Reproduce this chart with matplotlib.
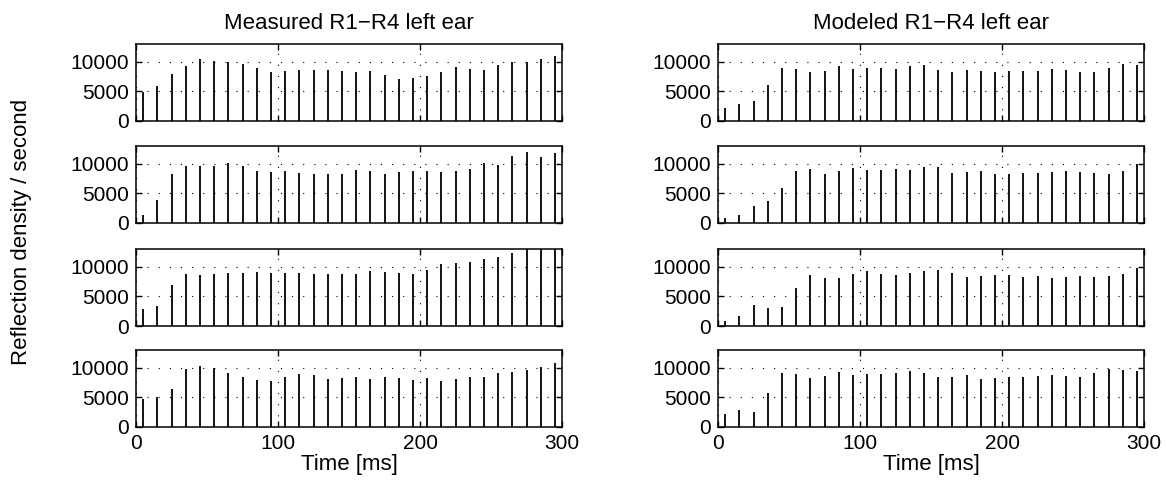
import matplotlib.pyplot as plt

plt.rcParams["font.family"] = ["Liberation Sans", "DejaVu Sans"]

# reflection arrival times (ms)
time_ms = [5, 15, 25, 35, 45, 55, 65, 75, 85, 95,
           105, 115, 125, 135, 145, 155, 165, 175, 185, 195,
           205, 215, 225, 235, 245, 255, 265, 275, 285, 295]

measured_r1 = [4900, 5950, 7950, 9300, 10450, 10100, 9900, 9700, 8950, 8200,
               8500, 8600, 8600, 8600, 8450, 8300, 8400, 7800, 7050, 7300,
               7600, 8200, 9100, 8850, 8600, 9450, 10000, 10000, 10450, 10950]
measured_r2 = [1400, 3800, 8350, 9650, 9650, 9550, 10050, 9700, 8700, 8650,
               8800, 8500, 8350, 8250, 8250, 8950, 8800, 8250, 8550, 8750,
               8700, 8650, 8750, 9200, 10100, 9850, 11350, 12050, 11150, 11900]
measured_r3 = [2900, 3400, 6900, 8750, 8650, 8750, 8950, 8950, 9100, 8950,
               8950, 8950, 8800, 8800, 8850, 8850, 9300, 9100, 8950, 8850,
               9500, 10450, 10600, 10800, 11350, 11700, 12400, 13000, 13000, 13000]
measured_r4 = [4750, 5000, 6500, 9800, 10300, 9900, 9050, 8400, 7900, 7700,
               8400, 8900, 8700, 8100, 8250, 8400, 8100, 8400, 8250, 7900,
               8200, 7700, 8050, 8400, 8450, 9050, 9350, 9600, 10200, 10800]

modeled_r1 = [2150, 2950, 3300, 6150, 8950, 8800, 8300, 8500, 9350, 8850,
              9000, 8900, 8850, 9300, 9450, 8600, 8250, 8650, 8400, 8300,
              8400, 8400, 8500, 8850, 8550, 8250, 8250, 8900, 9600, 9450]
modeled_r2 = [850, 1350, 2850, 3700, 5900, 8700, 9150, 8300, 8750, 9350,
              8950, 9000, 9100, 8900, 9400, 9450, 8500, 8600, 8800, 8250,
              8300, 8450, 8500, 8550, 8750, 8600, 8500, 8350, 8800, 9950]
modeled_r3 = [850, 1650, 3600, 3050, 3200, 6450, 8650, 8150, 8050, 8750,
              9300, 8750, 8650, 9000, 9300, 9450, 8900, 8350, 8450, 8600,
              8550, 8350, 8450, 8150, 8350, 8400, 8250, 8400, 8850, 9800]
modeled_r4 = [2200, 2850, 2550, 5750, 9150, 8950, 8250, 8600, 9350, 8800,
              8900, 8900, 9050, 9450, 9200, 8500, 8500, 8700, 8100, 8250,
              8500, 8500, 8600, 8750, 8600, 8400, 9150, 9750, 9600, 9450]

columns = [
    ("Measured R1\u2212R4 left ear", [measured_r1, measured_r2, measured_r3, measured_r4]),
    ("Modeled R1\u2212R4 left ear", [modeled_r1, modeled_r2, modeled_r3, modeled_r4]),
]

W, H = 1166, 487
fig = plt.figure(figsize=(W / 100, H / 100), dpi=100)

col_left_px = [136, 718]
ax_width_px = 426
row_top_px = [44, 146, 249, 350]
ax_height_px = 77
fs = 15
fs_label = 16

for c, (title, rows) in enumerate(columns):
    for r, values in enumerate(rows):
        left = col_left_px[c] / W
        bottom = 1 - (row_top_px[r] + ax_height_px) / H
        ax = fig.add_axes([left, bottom, ax_width_px / W, ax_height_px / H])
        ax.vlines(time_ms, 0, values, color="k", lw=1.3)
        ax.set_xlim(0, 300)
        ax.set_ylim(0, 13000)
        ax.set_xticks([0, 100, 200, 300])
        ax.set_yticks([0, 5000, 10000])
        ax.grid(True, color="k", lw=0.8, linestyle=(0, (1, 9)))
        ax.tick_params(direction="in", length=4, width=1, top=True, right=True,
                       labelsize=fs, pad=5)
        for sp in ax.spines.values():
            sp.set_linewidth(1.1)
        if r == 0:
            ax.set_title(title, fontsize=fs_label, pad=11)
        if r == 3:
            ax.set_xlabel("Time [ms]", fontsize=fs_label, labelpad=1)
        else:
            ax.tick_params(labelbottom=False)

fig.text(22 / W, 1 - 232 / H, "Reflection density / second", rotation=90,
         ha="center", va="center", fontsize=fs_label)

fig.savefig("out.png", dpi=100)
